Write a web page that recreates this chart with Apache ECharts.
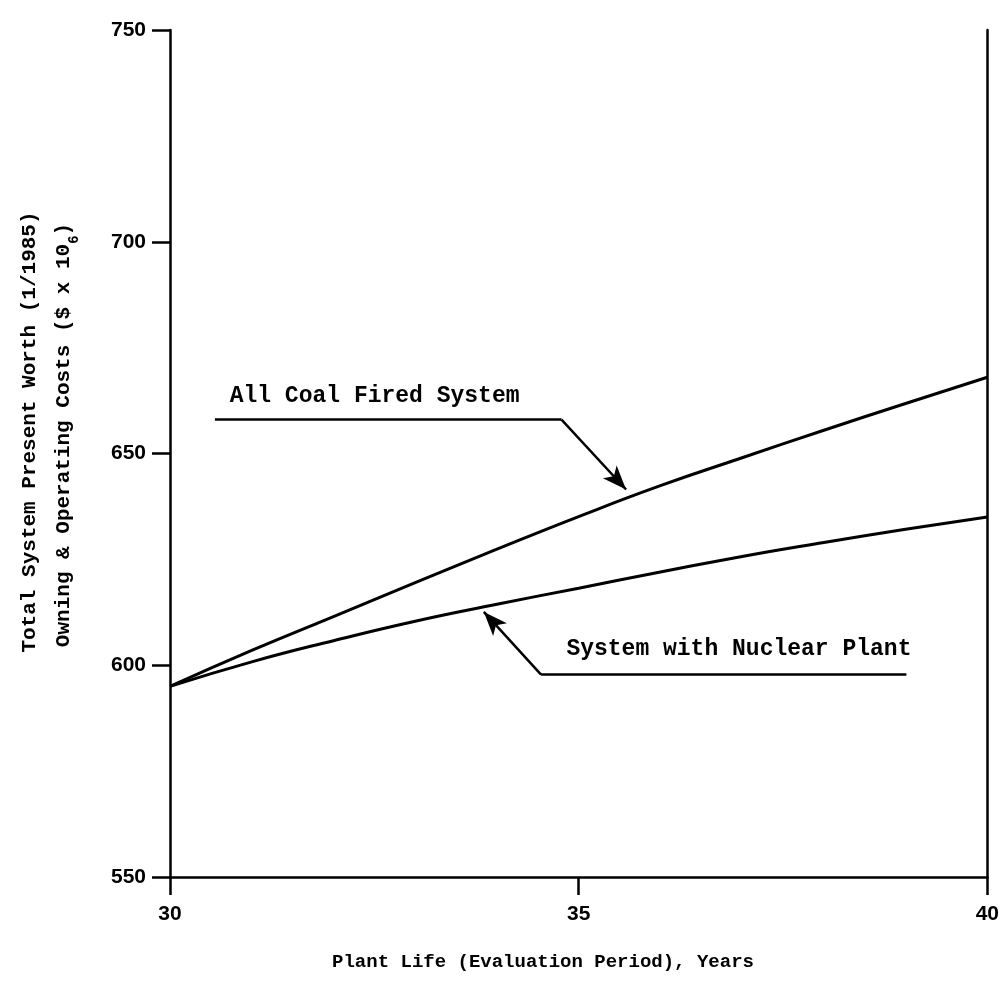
<!DOCTYPE html>
<html><head><meta charset="utf-8">
<script src="https://cdn.jsdelivr.net/npm/echarts@6/dist/echarts.min.js"></script>
<style>html,body{margin:0;padding:0;background:#fff}#c{width:1002px;height:981px}</style>
</head><body><div id="c"></div>
<script>
// ---- data ----
const years = [30, 31, 32, 33, 34, 35, 36, 37, 38, 39, 40];
const coalCost = [595, 603.5, 611.5, 619.5, 627.4, 635.1, 642.4, 649, 655.5, 661.8, 668];
const nuclearCost = [595, 600.8, 605.8, 610.4, 614.4, 618.2, 622, 625.7, 629, 632.1, 635];
const yTicks = [550, 600, 650, 700, 750];
const xTicks = [30, 35, 40];
const coalLabel = 'All Coal Fired System';
const nuclearLabel = 'System with Nuclear Plant';
const xTitle = 'Plant Life (Evaluation Period), Years';
const yTitle1 = 'Total System Present Worth (1/1985)';
const yTitle2a = 'Owning & Operating Costs ($ x 10';
const yTitle2sup = '6';
const yTitle2b = ')';
// annotation anchor points (data coordinates)
const coalLeader = [[30.55, 658], [34.79, 658], [35.58, 641.5]];
const coalTextAt = [30.73, 663.6];
const nuclearLeader = [[39.01, 597.8], [34.54, 597.8], [33.84, 612.6]];
const nuclearTextAt = [34.85, 603.9];

const mono = '"Liberation Mono", "DejaVu Sans Mono", monospace';
const sans = '"Liberation Sans", Arial, sans-serif';
const black = '#000';

const chart = echarts.init(document.getElementById('c'), null, {renderer: 'canvas'});

function pairs(arr) { return arr.map((v, i) => [years[i], v]); }

const arrowEnd = {symbol: 'arrow', symbolSize: [14, 24]};

chart.setOption({
  animation: false,
  backgroundColor: '#fff',
  grid: {left: 170, right: 14, top: 30, bottom: 104},
  xAxis: {
    type: 'value', min: xTicks[0], max: xTicks[xTicks.length - 1], interval: 5,
    axisLine: {show: true, onZero: false, lineStyle: {color: black, width: 2.5}},
    axisTick: {show: true, inside: false, length: 18, lineStyle: {color: black, width: 2.5}},
    axisLabel: {color: black, fontSize: 21, fontWeight: 'bold', fontFamily: sans, margin: 27, showMaxLabel: true, showMinLabel: true},
    splitLine: {show: false}
  },
  yAxis: [{
    type: 'value', min: yTicks[0], max: yTicks[yTicks.length - 1], interval: 50,
    axisLine: {show: true, lineStyle: {color: black, width: 2.5}},
    axisTick: {show: true, inside: false, length: 18, lineStyle: {color: black, width: 2.5}},
    axisLabel: {color: black, fontSize: 21, fontWeight: 'bold', fontFamily: sans, margin: 24},
    splitLine: {show: false}
  }, {
    type: 'value', position: 'right', min: yTicks[0], max: yTicks[yTicks.length - 1], interval: 50,
    axisLine: {show: true, lineStyle: {color: black, width: 2.5}},
    axisTick: {show: false}, axisLabel: {show: false}, splitLine: {show: false}
  }],
  series: [{
    name: coalLabel, type: 'line', data: pairs(coalCost), smooth: true, symbol: 'none',
    lineStyle: {color: black, width: 3}, z: 3,
    markLine: {
      silent: true, symbol: ['none', 'none'], label: {show: false},
      lineStyle: {color: black, width: 2.5, type: 'solid'},
      data: [
        [{coord: coalLeader[0]}, {coord: coalLeader[1]}],
        [{coord: coalLeader[1]}, Object.assign({coord: coalLeader[2]}, arrowEnd)]
      ]
    },
    markPoint: {
      silent: true, symbol: 'circle', symbolSize: 0,
      label: {show: true, position: 'right', distance: 0, formatter: coalLabel, color: black,
        fontSize: 23, fontWeight: 'bold', fontFamily: mono},
      data: [{coord: coalTextAt}]
    }
  }, {
    name: nuclearLabel, type: 'line', data: pairs(nuclearCost), smooth: true, symbol: 'none',
    lineStyle: {color: black, width: 3}, z: 3,
    markLine: {
      silent: true, symbol: ['none', 'none'], label: {show: false},
      lineStyle: {color: black, width: 2.5, type: 'solid'},
      data: [
        [{coord: nuclearLeader[0]}, {coord: nuclearLeader[1]}],
        [{coord: nuclearLeader[1]}, Object.assign({coord: nuclearLeader[2]}, arrowEnd)]
      ]
    },
    markPoint: {
      silent: true, symbol: 'circle', symbolSize: 0,
      label: {show: true, position: 'right', distance: 0, formatter: nuclearLabel, color: black,
        fontSize: 23, fontWeight: 'bold', fontFamily: mono},
      data: [{coord: nuclearTextAt}]
    }
  }],
  graphic: [{
    type: 'text', x: 543, y: 962,
    style: {text: xTitle, fill: black, font: 'bold 19px ' + mono, textAlign: 'center', textVerticalAlign: 'middle'}
  }, {
    type: 'text', x: 30, y: 432, rotation: Math.PI / 2,
    style: {text: yTitle1, fill: black, font: 'bold 21px ' + mono, textAlign: 'center', textVerticalAlign: 'middle'}
  }, {
    type: 'text', x: 64, y: 435, rotation: Math.PI / 2,
    style: {
      text: '{m|' + yTitle2a + '}{s|' + yTitle2sup + '}{m|' + yTitle2b + '}',
      fill: black, textAlign: 'center', textVerticalAlign: 'middle',
      rich: {
        m: {fontSize: 21, fontWeight: 'bold', fontFamily: mono, lineHeight: 34, verticalAlign: 'middle', fill: black},
        s: {fontSize: 14, fontWeight: 'bold', fontFamily: mono, lineHeight: 14, verticalAlign: 'bottom', fill: black}
      }
    }
  }]
});
</script>
</body></html>
